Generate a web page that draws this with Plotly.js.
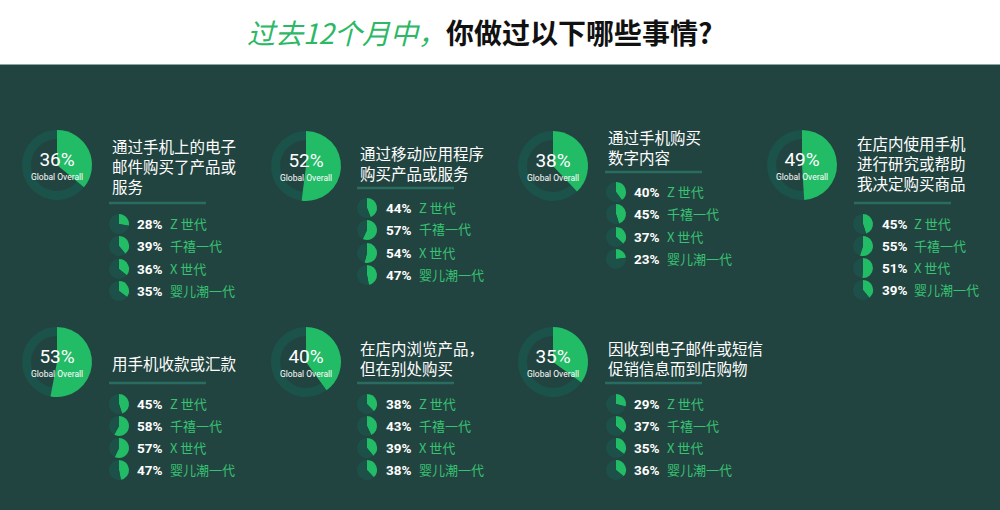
<!DOCTYPE html>
<html>
<head>
<meta charset="utf-8">
<script src="https://cdn.plot.ly/plotly-3.0.1.min.js"></script>
<style>html,body{margin:0;padding:0;background:#224440;}#chart{width:1000px;height:510px;}</style>
</head>
<body>
<div id="chart"></div>
<script>
// ---- Data ----
const generations = ['Z 世代', '千禧一代', 'X 世代', '婴儿潮一代'];
const questionLines = [
  ['通过手机上的电子', '邮件购买了产品或', '服务'],
  ['通过移动应用程序', '购买产品或服务'],
  ['通过手机购买', '数字内容'],
  ['在店内使用手机', '进行研究或帮助', '我决定购买商品'],
  ['用手机收款或汇款'],
  ['在店内浏览产品，', '但在别处购买'],
  ['因收到电子邮件或短信', '促销信息而到店购物']
];
const overall     = [36, 52, 38, 49, 53, 40, 35];
const genZ        = [28, 44, 40, 45, 45, 38, 29];
const millennials = [39, 57, 45, 55, 58, 43, 37];
const genX        = [36, 54, 37, 51, 57, 39, 35];
const boomers     = [35, 47, 23, 39, 47, 38, 36];
const titleGreen = '过去12个月中，';
const titleBlack = '你做过以下哪些事情?';
const overallLabel = 'Global Overall';

// ---- Layout geometry (pixels) ----
const W = 1000, H = 510;
const px = x => x / W;
const py = y => 1 - y / H;
const panels = [
  {cx: 57,  cy: 165, tx: 110, ty: 166,   dy: 203, rows: [224, 246, 269, 291], pieX: 119, pctX: 135, labX: 168},
  {cx: 306, cy: 166, tx: 358, ty: 162.5, dy: 188, rows: [208, 230, 253, 275], pieX: 367, pctX: 384, labX: 417},
  {cx: 553, cy: 166, tx: 606, ty: 147,   dy: 172, rows: [192, 214, 237, 259], pieX: 616, pctX: 632, labX: 665},
  {cx: 802, cy: 165, tx: 855, ty: 163.5, dy: 203, rows: [224, 246, 268, 290], pieX: 863, pctX: 880, labX: 912},
  {cx: 57,  cy: 362, tx: 110, ty: 363,   dy: 383, rows: [404, 426, 448, 470], pieX: 119, pctX: 135, labX: 168},
  {cx: 306, cy: 362, tx: 358, ty: 358,   dy: 383, rows: [404, 426, 448, 470], pieX: 367, pctX: 384, labX: 417},
  {cx: 553, cy: 362, tx: 606, ty: 358,   dy: 383, rows: [404, 426, 448, 470], pieX: 616, pctX: 632, labX: 665}
];
const BG = '#224440', RING = '#1b5249', SMALLDARK = '#1c5048', GREEN = '#22bb66', LABGREEN = '#38c273';
const CLEAR = 'rgba(0,0,0,0)';
const R_BIG = 35, R_SMALL = 10;
const CJK = '"Noto Sans CJK SC", "Noto Sans", sans-serif';
const NUM = 'Roboto, "Noto Sans", sans-serif';

const dom = (cx, cy, r) => ({x: [px(cx - r), px(cx + r)], y: [py(cy + r), py(cy - r)]});
const basePie = {type: 'pie', sort: false, direction: 'clockwise', rotation: 0, textinfo: 'none',
  hoverinfo: 'skip', showlegend: false, marker: {line: {width: 0}}};

const traces = [];
const annotations = [];
const shapes = [];

// header band
shapes.push({type: 'rect', xref: 'paper', yref: 'paper', x0: 0, x1: 1, y0: py(64), y1: 1,
  fillcolor: '#ffffff', line: {width: 0}, layer: 'below'});
shapes.push({type: 'line', xref: 'paper', yref: 'paper', x0: 0, x1: 1, y0: py(64.5), y1: py(64.5),
  line: {color: '#8fa5a1', width: 1}});
annotations.push({xref: 'paper', yref: 'paper', x: px(480), y: py(32), xanchor: 'center', yanchor: 'middle',
  showarrow: false,
  text: '<i><span style="color:#2cb866">' + titleGreen + '</span></i><b>' + titleBlack + '</b>',
  font: {family: CJK, size: 28, color: '#111111'}});

const genSeries = [genZ, millennials, genX, boomers];

panels.forEach((p, i) => {
  const v = overall[i];
  // ring (remaining share)
  traces.push(Object.assign({}, basePie, {values: [v, 100 - v], hole: 0.74,
    marker: {colors: [CLEAR, RING], line: {width: 0}}, domain: dom(p.cx, p.cy, R_BIG)}));
  // solid wedge (share)
  traces.push(Object.assign({}, basePie, {values: [v, 100 - v], hole: 0,
    marker: {colors: [GREEN, CLEAR], line: {width: 0}}, domain: dom(p.cx, p.cy, R_BIG)}));
  annotations.push({xref: 'paper', yref: 'paper', x: px(p.cx), y: py(p.cy), xanchor: 'center', yanchor: 'middle',
    showarrow: false,
    text: '<span style="font-size:19px">' + v + '%</span><br><span style="font-size:8.5px">' + overallLabel + '</span>',
    font: {family: NUM, size: 11, color: '#ffffff'}});

  // question title
  annotations.push({xref: 'paper', yref: 'paper', x: px(p.tx), y: py(p.ty), xanchor: 'left', yanchor: 'middle',
    align: 'left', showarrow: false, text: questionLines[i].join('<br>'),
    font: {family: CJK, size: 15.5, color: '#ffffff'}});
  // divider
  shapes.push({type: 'line', xref: 'paper', yref: 'paper', x0: px(p.tx - 1), x1: px(p.tx + 96),
    y0: py(p.dy), y1: py(p.dy), line: {color: '#2b6c60', width: 2.5}});

  // generation rows
  generations.forEach((g, k) => {
    const gv = genSeries[k][i];
    const ry = p.rows[k];
    traces.push(Object.assign({}, basePie, {values: [gv, 100 - gv], hole: 0,
      marker: {colors: [GREEN, SMALLDARK], line: {width: 0}}, domain: dom(p.pieX, ry, R_SMALL)}));
    annotations.push({xref: 'paper', yref: 'paper', x: px(p.pctX), y: py(ry), xanchor: 'left', yanchor: 'middle',
      showarrow: false, text: '<b>' + gv + '%</b>', font: {family: NUM, size: 13.5, color: '#ffffff'}});
    annotations.push({xref: 'paper', yref: 'paper', x: px(p.labX), y: py(ry - 1), xanchor: 'left', yanchor: 'middle',
      showarrow: false, text: g, font: {family: CJK, size: 13, color: LABGREEN}});
  });
});

const layout = {
  width: W, height: H,
  margin: {l: 0, r: 0, t: 0, b: 0, pad: 0},
  paper_bgcolor: BG, plot_bgcolor: BG,
  showlegend: false,
  shapes: shapes,
  annotations: annotations
};
Plotly.newPlot('chart', traces, layout, {staticPlot: true, displayModeBar: false});
</script>
</body>
</html>
